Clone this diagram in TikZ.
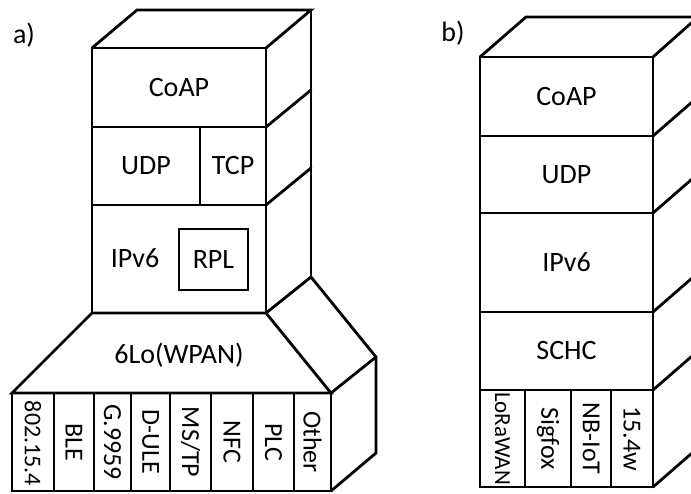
\documentclass[tikz,border=0pt]{standalone}
\usepackage{fontspec}
\setmainfont{Carlito}
\begin{document}
\begin{tikzpicture}[x=1pt,y=-1pt, line width=2.8pt, line join=miter, line cap=round,
 box/.style={draw, rectangle, inner sep=0pt, outer sep=0pt, font=\fontsize{28}{32}\selectfont},
 lay/.style={font=\fontsize{28}{32}\selectfont, inner sep=0pt},
 vlab/.style={rotate=-90, font=\fontsize{26}{30}\selectfont, inner sep=0pt}]
\useasboundingbox (0,0) rectangle (691,493);

% ---------------- a) ----------------
\node[lay] (la) at (24,35) {a)};
\node[box, minimum width=174pt, minimum height=79pt] (coapA) at (179,87.5) {CoAP};
\node[box, minimum width=108pt, minimum height=78pt] (udpA) at (146,166) {UDP};
\node[box, minimum width=66pt, minimum height=78pt] (tcpA) at (233,166) {TCP};
\node[box, minimum width=174pt, minimum height=108pt] (ipA) at (179,259) {};
\node[lay] (ipAt) at (135,258) {IPv6};
\node[box, minimum width=69pt, minimum height=61pt] (rpl) at (213.5,259.5) {RPL};

\node[box, minimum width=42pt, minimum height=98pt] (a1) at (33,442) {};
\node[box, minimum width=40pt, minimum height=98pt] (a2) at (74,442) {};
\node[box, minimum width=37pt, minimum height=98pt] (a3) at (112.5,442) {};
\node[box, minimum width=39pt, minimum height=98pt] (a4) at (150.5,442) {};
\node[box, minimum width=41pt, minimum height=98pt] (a5) at (190.5,442) {};
\node[box, minimum width=42pt, minimum height=98pt] (a6) at (232,442) {};
\node[box, minimum width=41pt, minimum height=98pt] (a7) at (273.5,442) {};
\node[box, minimum width=37pt, minimum height=98pt] (a8) at (312.5,442) {};
\node[vlab, font=\fontsize{24}{28}\selectfont] (ta1) at ([yshift=-1.5pt]a1.center) {802.15.4};
\node[vlab] (ta2) at (a2) {BLE};
\node[vlab] (ta3) at (a3) {G.9959};
\node[vlab] (ta4) at (a4) {D-ULE};
\node[vlab] (ta5) at (a5) {MS/TP};
\node[vlab] (ta6) at (a6) {NFC};
\node[vlab] (ta7) at (a7) {PLC};
\node[vlab] (ta8) at (a8) {Other};

\draw (ipA.south west) -- (ipA.south east) -- (a8.north east) -- (a1.north west) -- cycle;
\node[lay] (lo) at (179,355) {6Lo(WPAN)};

\draw (coapA.north west) -- ++(45,-38) -- ++(174,0) coordinate (trA) -- (coapA.north east);
\draw (trA) -- ++(0,267) coordinate (brA);
\draw (coapA.south east) -- ++(45,-37);
\draw (tcpA.south east) -- ++(45,-37);
\draw (ipA.south east) -- (brA) -- ++(65,80) coordinate (prA) -- ++(0,96) -- (a8.south east);
\draw (a8.north east) -- (prA);

% ---------------- b) ----------------
\node[lay] (lb) at (453,33) {b)};
\node[box, minimum width=173pt, minimum height=79pt] (coapB) at (566.5,96.5) {CoAP};
\node[box, minimum width=173pt, minimum height=77pt] (udpB) at (566.5,174.5) {UDP};
\node[box, minimum width=173pt, minimum height=99pt] (ipB) at (566.5,262.5) {IPv6};
\node[box, minimum width=173pt, minimum height=78pt] (schc) at (566.5,351) {SCHC};
\node[box, minimum width=45pt, minimum height=97pt] (b1) at (502.5,438.5) {};
\node[box, minimum width=46pt, minimum height=97pt] (b2) at (548,438.5) {};
\node[box, minimum width=40pt, minimum height=97pt] (b3) at (591,438.5) {};
\node[box, minimum width=42pt, minimum height=97pt] (b4) at (632,438.5) {};
\node[vlab, font=\fontsize{23}{26}\selectfont] (tb1) at (b1) {LoRaWAN};
\node[vlab] (tb2) at (b2) {Sigfox};
\node[vlab] (tb3) at (b3) {NB-IoT};
\node[vlab] (tb4) at (b4) {15.4w};

\draw (coapB.north west) -- ++(46,-40) -- ++(172,0) coordinate (trB) -- (coapB.north east);
\draw (trB) -- ++(0,430);
\draw (coapB.south east) -- ++(46,-40);
\draw (udpB.south east) -- ++(46,-40);
\draw (ipB.south east) -- ++(46,-40);
\draw (schc.south east) -- ++(46,-40);
\draw (b4.south east) -- ++(46,-40);
\end{tikzpicture}
\end{document}
